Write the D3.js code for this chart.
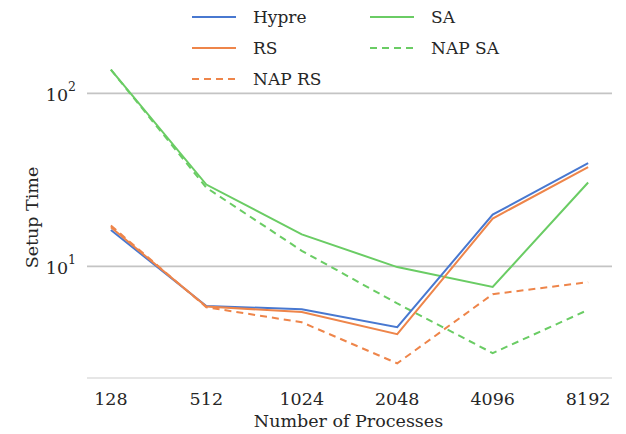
<!DOCTYPE html>
<html><head><meta charset="utf-8">
<script src="https://cdn.jsdelivr.net/npm/d3@7"></script>
<style>body{margin:0;background:#fff}svg text{font-family:"DejaVu Serif","Liberation Serif",serif;fill:#262626}</style>
</head><body><svg id="c" width="626" height="434"></svg>
<script>
const categories = ["128","512","1024","2048","4096","8192"];
const hypre = [16.2, 5.9, 5.65, 4.45, 19.9, 39.5];
const rs = [16.8, 5.85, 5.45, 4.05, 18.9, 37.5];
const napRS = [17.2, 5.8, 4.75, 2.75, 6.9, 8.1];
const sa = [137, 29.7, 15.3, 9.9, 7.6, 30.5];
const napSA = [137, 28.5, 12.3, 6.1, 3.15, 5.6];
const yTicks = [10, 100];

const series = [
  {name:"Hypre", values:hypre, color:"#4878d0", dash:null},
  {name:"RS", values:rs, color:"#ee854a", dash:null},
  {name:"NAP RS", values:napRS, color:"#ee854a", dash:"7,5"},
  {name:"SA", values:sa, color:"#6acc64", dash:null},
  {name:"NAP SA", values:napSA, color:"#6acc64", dash:"7,5"}
];

const svg = d3.select("#c");
const L=87, R=612, T=55, B=378;
const x = d3.scalePoint().domain(categories).range([L,R]).padding(0.25);
const all = series.flatMap(s=>s.values);
const lmin = Math.log10(d3.min(all)), lmax = Math.log10(d3.max(all));
const m = (lmax-lmin)*0.05;
const y = d3.scaleLog().domain([Math.pow(10,lmin-m), Math.pow(10,lmax+m)]).range([B,T]);

// grid
svg.append("g").selectAll("line").data(yTicks).join("line")
  .attr("x1",L).attr("x2",R).attr("y1",d=>y(d)).attr("y2",d=>y(d))
  .attr("stroke","#c4c4c4").attr("stroke-width",1.6);
svg.append("line").attr("x1",L).attr("x2",R).attr("y1",B).attr("y2",B)
  .attr("stroke","#e6e6e6").attr("stroke-width",2.2);

// y tick labels
const yt = svg.append("g").selectAll("text").data(yTicks).join("text")
  .attr("x",L-11).attr("y",d=>y(d)+8).attr("text-anchor","end").style("font-size","17.5px");
yt.append("tspan").text("10");
yt.append("tspan").attr("dy",-10.5).style("font-size","12.5px").text(d=>Math.round(Math.log10(d)));

// x tick labels
svg.append("g").selectAll("text").data(categories).join("text")
  .attr("x",d=>x(d)).attr("y",B+27).attr("text-anchor","middle").style("font-size","17.5px").text(d=>d);

svg.append("text").attr("x",(L+R)/2-1).attr("y",B+49).attr("text-anchor","middle")
  .style("font-size","17.5px").text("Number of Processes");
svg.append("text").attr("transform",`translate(38,${(T+B)/2+1}) rotate(-90)`).attr("text-anchor","middle")
  .style("font-size","17.5px").text("Setup Time");

// lines
const line = d3.line().x((d,i)=>x(categories[i])).y(d=>y(d));
const drawOrder = [3,4,0,1,2];
drawOrder.forEach(i=>{
  const s=series[i];
  svg.append("path").datum(s.values).attr("d",line).attr("fill","none")
    .attr("stroke",s.color).attr("stroke-width",2).attr("stroke-dasharray",s.dash);
});

// legend
const lg = [
  {s:series[0], cx:192, cy:17},{s:series[1], cx:192, cy:48},{s:series[2], cx:192, cy:79},
  {s:series[3], cx:370, cy:17},{s:series[4], cx:370, cy:48}
];
lg.forEach(e=>{
  svg.append("line").attr("x1",e.cx).attr("x2",e.cx+44).attr("y1",e.cy).attr("y2",e.cy)
    .attr("stroke",e.s.color).attr("stroke-width",2).attr("stroke-dasharray",e.s.dash);
  svg.append("text").attr("x",e.cx+61).attr("y",e.cy+6).style("font-size","17px").text(e.s.name);
});
</script></body></html>
